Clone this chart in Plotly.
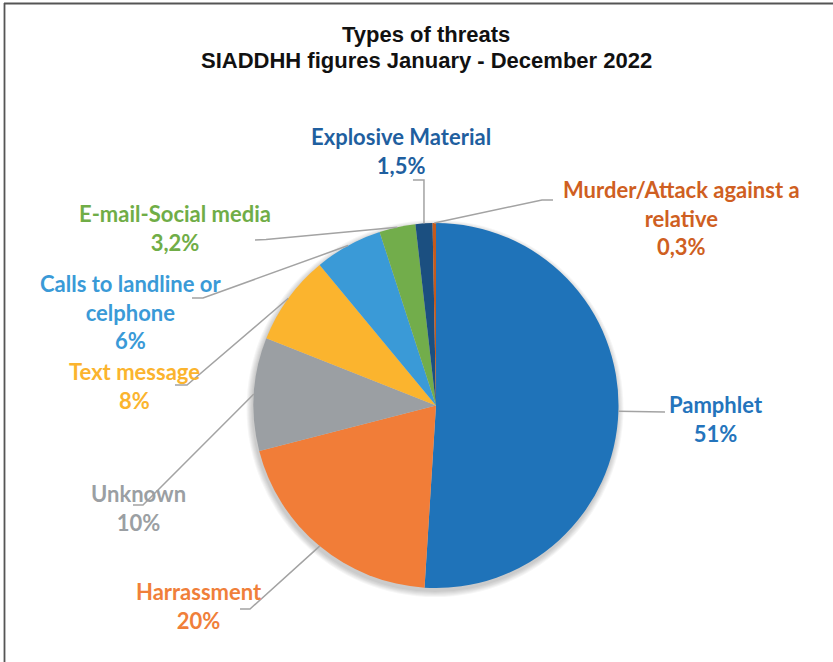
import math
import plotly.graph_objects as go

# Threat categories (clockwise from 12 o'clock) and their shares in percent
categories = ["Pamphlet", "Harrassment", "Unknown", "Text message",
              "Calls to landline or<br>celphone", "E-mail-Social media",
              "Explosive Material", "Murder/Attack against a<br>relative"]
shares = [51, 20, 10, 8, 6, 3.2, 1.5, 0.3]
share_text = ["51%", "20%", "10%", "8%", "6%", "3,2%", "1,5%", "0,3%"]

slice_colors = ["#1f73b9", "#f17d38", "#9b9fa3", "#fbb42e",
                "#3a9ad7", "#72ad4b", "#1b4f80", "#c55a1c"]
label_colors = ["#2474bc", "#f07f3a", "#9b9fa3", "#fbb42e",
                "#3a9ad7", "#70ad47", "#1f5f9f", "#cf5f22"]

W, H = 833, 662
CX, CY, R = 436, 405.5, 182.5   # pie centre and radius in pixels

# label block centres and leader-line elbows (pixels)
label_pos = [(716, 419), (199, 606), (138, 508), (134, 386),
             (130, 312), (175, 228), (401, 151), (681, 218)]
elbows = [
    [(665, 412)],
    [(240, 609), (250, 609)],
    [(133, 505), (143, 505)],
    [(175, 385), (187, 385)],
    [(192, 298), (203, 298)],
    [(255, 240), (266, 239.5)],
    None,
    [(553, 200), (542, 200)],
]


def px(x):
    return x / W


def py(y):
    return 1 - y / H


fig = go.Figure()

fig.add_trace(go.Pie(
    values=shares,
    labels=[c.replace("<br>", " ") for c in categories],
    sort=False,
    direction="clockwise",
    rotation=0,
    marker=dict(colors=slice_colors, line=dict(width=0)),
    textinfo="none",
    hoverinfo="label+percent",
    showlegend=False,
    domain=dict(x=[px(CX - R), px(CX + R)], y=[py(CY + R), py(CY - R)]),
))

shapes = []

# soft shadow under the pie
for i in range(6):
    rr = R + 1 + i
    shapes.append(dict(
        type="circle", xref="paper", yref="paper", layer="below",
        x0=px(CX - 1 - rr), x1=px(CX - 1 + rr),
        y0=py(CY + 3 + rr), y1=py(CY + 3 - rr),
        fillcolor="rgba(0,0,0,0.035)", line=dict(width=0),
    ))

# leader lines from each slice's outer midpoint to its label
total = sum(shares)
cum = 0.0
for i, v in enumerate(shares):
    theta = 2 * math.pi * (cum + v / 2) / total
    cum += v
    ex = CX + R * math.sin(theta)
    ey = CY - R * math.cos(theta)
    pts = elbows[i]
    if pts is None:
        pts = [(ex - 11, 180), (ex, 180)]
    pts = list(pts) + [(ex, ey)]
    path = "M " + " L ".join(f"{px(x):.5f},{py(y):.5f}" for x, y in pts)
    shapes.append(dict(type="path", xref="paper", yref="paper", path=path,
                       line=dict(color="#a3a3a3", width=1.5)))

# chart frame (top and left edges)
shapes.append(dict(type="line", xref="paper", yref="paper",
                   x0=px(4), x1=1, y0=py(3.5), y1=py(3.5),
                   line=dict(color="#555555", width=1.8)))
shapes.append(dict(type="line", xref="paper", yref="paper",
                   x0=px(4.5), x1=px(4.5), y0=py(3), y1=0,
                   line=dict(color="#555555", width=1.8)))

annotations = []
for i, cat in enumerate(categories):
    lx, ly = label_pos[i]
    annotations.append(dict(
        x=px(lx), y=py(ly), xref="paper", yref="paper",
        xanchor="center", yanchor="middle", showarrow=False, align="center",
        text=f"<b>{cat}<br>{share_text[i]}</b>",
        font=dict(family="Lato", size=22, color=label_colors[i]),
    ))

# two-line chart title
title_lines = ["Types of threats", "SIADDHH figures January - December 2022"]
for text, yc in zip(title_lines, [35, 60]):
    annotations.append(dict(
        x=px(426), y=py(yc), xref="paper", yref="paper",
        xanchor="center", yanchor="middle", showarrow=False,
        text=f"<b>{text}</b>",
        font=dict(family="Liberation Sans", size=22, color="#111111"),
    ))

fig.update_layout(
    width=W, height=H,
    margin=dict(l=0, r=0, t=0, b=0),
    paper_bgcolor="white", plot_bgcolor="white",
    shapes=shapes,
    annotations=annotations,
)

fig.write_html("out.html")
